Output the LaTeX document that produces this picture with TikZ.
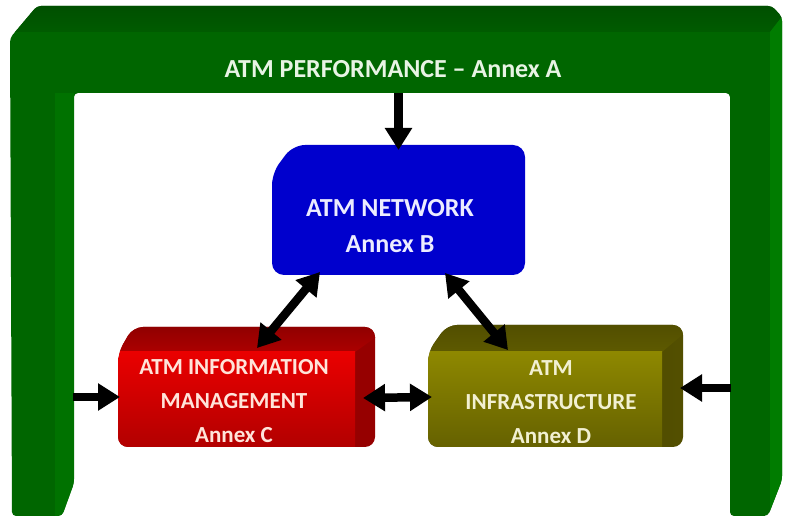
\documentclass[tikz,border=0pt]{standalone}
\usepackage{fontspec}
\setmainfont{Carlito}
\usetikzlibrary{arrows.meta,calc}

% frame greens
\definecolor{gfront}{RGB}{0,102,0}
\definecolor{gtopA}{RGB}{0,76,0}
\definecolor{gtopB}{RGB}{0,92,0}
\definecolor{gstrip}{RGB}{0,114,0}
\definecolor{gside}{RGB}{0,124,0}
% network box
\definecolor{bfront}{RGB}{0,0,205}
% information box
\definecolor{rtop}{RGB}{172,0,0}
\definecolor{rfrontA}{RGB}{234,0,0}
\definecolor{rfrontB}{RGB}{176,0,0}
\definecolor{rside}{RGB}{150,0,0}
% infrastructure box
\definecolor{otop}{RGB}{94,90,0}
\definecolor{ofrontA}{RGB}{142,136,0}
\definecolor{ofrontB}{RGB}{100,96,0}
\definecolor{oside}{RGB}{84,80,0}
% label colours
\definecolor{ttltxt}{RGB}{232,244,228}
\definecolor{bluetxt}{RGB}{236,236,255}
\definecolor{redtxt}{RGB}{255,228,218}
\definecolor{olvtxt}{RGB}{242,240,210}

\tikzset{
  anchorbox/.style={draw=none, inner sep=0pt, outer sep=0pt},
  ttl/.style={font=\bfseries\fontsize{26}{30}\selectfont, text=ttltxt, inner sep=0pt},
  lblB/.style={font=\bfseries\fontsize{26}{36}\selectfont, text=bluetxt, align=center, inner sep=0pt},
  lbl/.style={font=\bfseries\fontsize{23}{34}\selectfont, align=center, inner sep=0pt},
  arr/.style={line width=8.5pt, -{Triangle[width=26pt,length=22pt]}},
  dbl/.style={line width=8.5pt, {Triangle[width=26pt,length=22pt]}-{Triangle[width=26pt,length=22pt]}},
}

\begin{document}
\begin{tikzpicture}[x=1pt,y=-1pt]
\useasboundingbox (0,0) rectangle (785,518);
\fill[white] (0,0) rectangle (785,518);

% ---- performance frame (bevelled inverted U) ----
\begin{scope}
  \clip[rounded corners=4pt] (37,6) -- (772,6) -- (782,17) -- (782,480) -- (768,516) -- (730,516)
        -- (730,93) -- (74,93) -- (74,483) -- (62,516) -- (12,516) -- (10,38) -- cycle;
  \fill[gfront] (0,0) rectangle (785,518);
  \fill[gstrip] (55,93) rectangle (74,518);
  \shade[top color=gtopA, bottom color=gtopB] (0,0) -- (795,0) -- (770,32) -- (0,32) -- cycle;
  \fill[gside] (770,32) -- (795,0) -- (795,518) -- (770,518) -- cycle;
\end{scope}

% ---- network box ----
\fill[bfront, rounded corners=12pt] (293,145) -- (525,145) -- (525,275) -- (272,275) -- (272,173) -- cycle;

% ---- information management box ----
\begin{scope}
  \clip[rounded corners=10pt] (133,327) -- (375,327) -- (375,447) -- (118,447) -- (118,353) -- cycle;
  \fill[rside] (100,320) rectangle (400,450);
  \shade[top color=rtop!80!black, bottom color=rtop] (100,320) -- (400,320) -- (355,352) -- (100,352) -- cycle;
  \shade[top color=rfrontA, bottom color=rfrontB] (100,352) rectangle (355,450);
\end{scope}

% ---- infrastructure box ----
\begin{scope}
  \clip[rounded corners=10pt] (447,325) -- (683,325) -- (683,447) -- (428,447) -- (428,352) -- cycle;
  \shade[left color=oside!80!black, right color=oside] (410,320) rectangle (700,450);
  \shade[top color=otop!85!black, bottom color=otop] (410,320) -- (700,320) -- (662,352) -- (410,352) -- cycle;
  \shade[top color=ofrontA, bottom color=ofrontB] (410,352) rectangle (662,450);
\end{scope}

% ---- named regions used by the connectors ----
\node[anchorbox, minimum width=656pt, minimum height=61pt] (bar) at (402,62.5) {};
\node[anchorbox, minimum width=64pt, minimum height=422pt] (leftcol) at (42,304) {};
\node[anchorbox, minimum width=52pt, minimum height=422pt] (rightcol) at (756,304) {};
\node[anchorbox, minimum width=253pt, minimum height=130pt] (net) at (398.5,210) {};
\node[anchorbox, minimum width=257pt, minimum height=120pt] (info) at (246.5,387) {};
\node[anchorbox, minimum width=255pt, minimum height=122pt] (infra) at (555.5,386) {};

% ---- labels ----
\node[ttl] (perfT) at (393,69) {ATM PERFORMANCE – Annex A};
\node[lblB] (netT) at (390,226) {ATM NETWORK\\Annex B};
\node[lbl, text=redtxt] (infoT) at (234,401) {ATM INFORMATION\\MANAGEMENT\\Annex C};
\node[lbl, text=olvtxt] (infraT) at (551,402) {ATM\\INFRASTRUCTURE\\Annex D};

% ---- connectors ----
\draw[arr] (net.north |- bar.south) -- ($(net.north)+(0,5)$);
\draw[dbl] ($(net.south west)+(48,-3)$) -- ($(info.north west)+(139,21)$);
\draw[dbl] ($(net.south west)+(173,-2)$) -- ($(infra.north west)+(80,25)$);
\draw[dbl] ($(info.east)+(-12,11)$) -- ($(infra.west)+(4,11)$);
\draw[arr] ($(leftcol.east |- info.west)+(-1,10)$) -- ($(info.west)+(2,10)$);
\draw[arr] ($(rightcol.west |- infra.east)+(1,2)$) -- ($(infra.east)+(-3,2)$);
\end{tikzpicture}
\end{document}
